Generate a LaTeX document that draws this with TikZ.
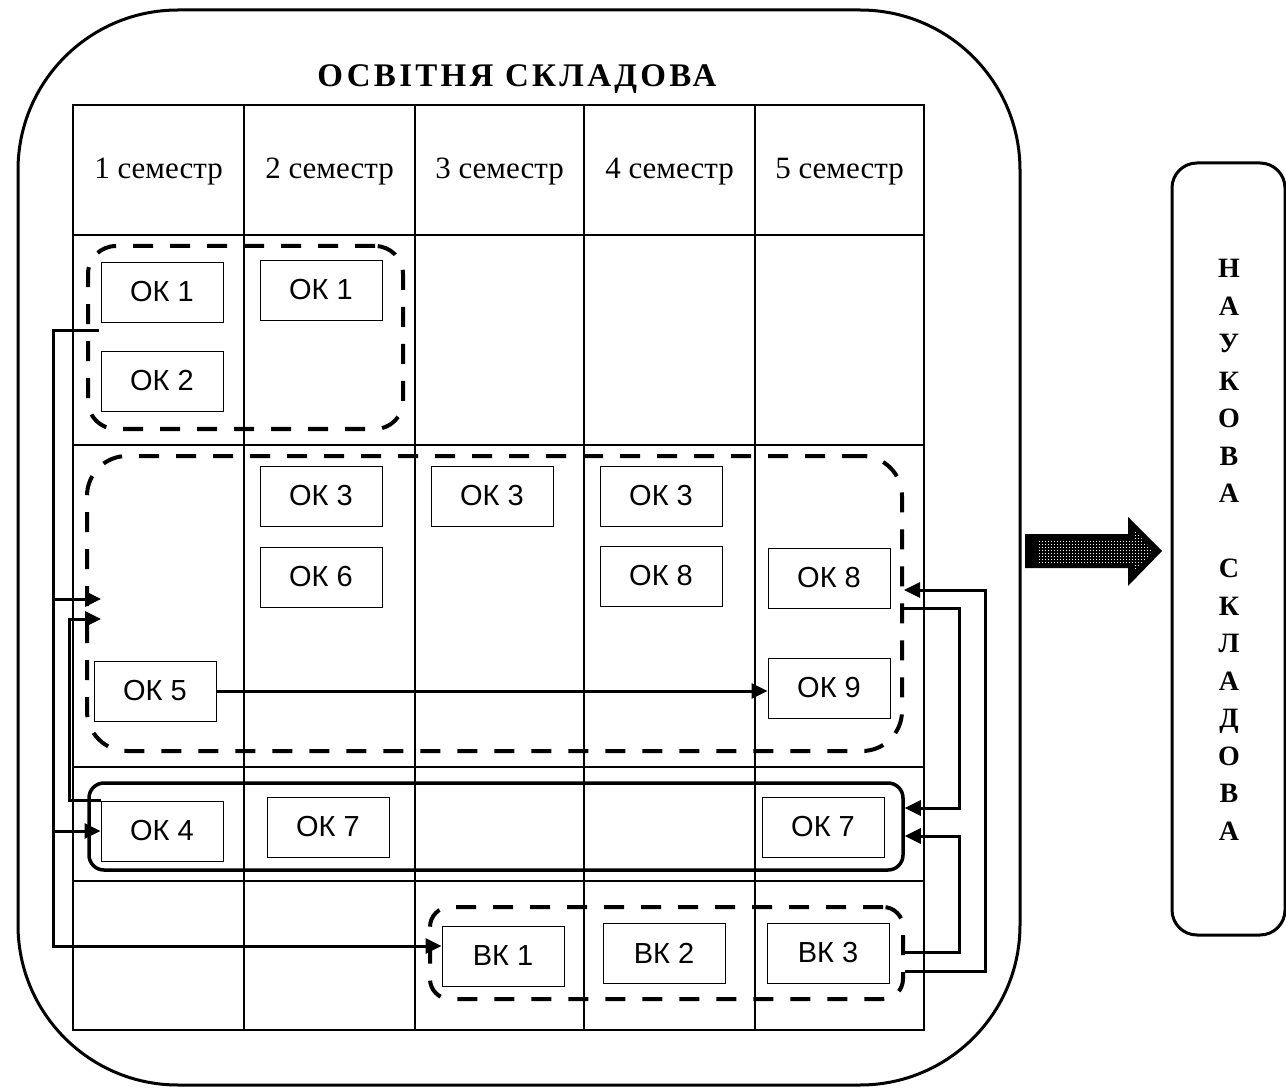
\documentclass[tikz,border=0pt]{standalone}
\usepackage{fontspec}
\setmainfont{Liberation Serif}
\newfontfamily\boxfont{Liberation Sans}
\newfontfamily\titlefont[LetterSpace=10]{Liberation Serif}
\usetikzlibrary{arrows.meta}
\tikzset{
  okbox/.style={draw, line width=0.8pt, minimum width=122pt, minimum height=60pt, inner sep=0pt, font=\boxfont\fontsize{29}{31}\selectfont},
  grpdash/.style={draw, line width=4pt, dash pattern=on 20pt off 17pt, inner sep=0pt},
  grpsolid/.style={draw, line width=3.5pt, rounded corners=15pt, inner sep=0pt},
  conn/.style={line width=3pt, -{Triangle[length=16pt,width=15pt]}},
  tbl/.style={line width=2pt}
}

\begin{document}
\begin{tikzpicture}[x=1pt,y=-1pt]
			%%%%% FRAME %%%%%
			\useasboundingbox (0,0) rectangle (1286,1091);
			\draw[line width=3pt, rounded corners=160pt] (18,10) rectangle (1020,1085);
			\node[font=\titlefont\bfseries\fontsize{33}{36}\selectfont] (title) at (517,79) {ОСВІТНЯ СКЛАДОВА};
			
			%%%%% TABLE %%%%%
			\draw[tbl] (73,105) rectangle (924,1030);
			\foreach \x in {244,415,584,755} \draw[tbl] (\x,105) -- (\x,1030);
			\foreach \y in {235,445,767,881} \draw[tbl] (73,\y) -- (924,\y);
			\foreach \i/\x in {1/158.5,2/329.5,3/499.5,4/669.5,5/839.5}
				\node[font=\fontsize{31}{36}\selectfont] (sem\i) at (\x,172) {\i\ семестр};
			
			%%%%% GROUPS %%%%%
			\node[grpdash, rounded corners=28pt, minimum width=315pt, minimum height=183pt] (g1) at (245.5,337.5) {};
			\node[grpdash, rounded corners=40pt, minimum width=815pt, minimum height=295pt] (g2) at (494.5,603.5) {};
			\node[grpsolid, minimum width=814pt, minimum height=87pt] (gs) at (496,826.5) {};
			\node[grpdash, rounded corners=20pt, minimum width=473pt, minimum height=92pt] (g3) at (666.5,953) {};
			
			%%%%% BOXES %%%%%
			\node[okbox] (ok1a) at (162,292) {ОК 1};
			\node[okbox] (ok1b) at (321,290) {ОК 1};
			\node[okbox] (ok2) at (162,381) {ОК 2};
			
			\node[okbox] (ok3a) at (321,496) {ОК 3};
			\node[okbox] (ok3b) at (492,496) {ОК 3};
			\node[okbox] (ok3c) at (661,496) {ОК 3};
			\node[okbox] (ok6) at (321,577) {ОК 6};
			\node[okbox] (ok8a) at (661,576) {ОК 8};
			\node[okbox] (ok8b) at (829,578) {ОК 8};
			\node[okbox] (ok5) at (155,691) {ОК 5};
			\node[okbox] (ok9) at (829,688) {ОК 9};
			
			\node[okbox] (ok4) at (162,831) {ОК 4};
			\node[okbox] (ok7a) at (328,827) {ОК 7};
			\node[okbox] (ok7b) at (823,827) {ОК 7};
			
			\node[okbox] (vk1) at (503,956) {ВК 1};
			\node[okbox] (vk2) at (664,953) {ВК 2};
			\node[okbox] (vk3) at (828,953) {ВК 3};
			
			%%%%% LINKS %%%%%
			\coordinate (src) at (99,331);
			\coordinate (trunk) at (53,331);
			\coordinate (in2a) at (101,599);
			\coordinate (in2b) at (101,619);
			\draw[conn] (src) -- (trunk) |- (vk1.west |- 0,946);
			\draw[conn] (trunk |- in2a) -- (in2a);
			\draw[conn] (trunk |- ok4.west) -- (ok4.west);
			\draw[conn] (ok4.north west) -- ++(-31,0) |- (in2b);
			\draw[conn] (ok5.east) -- (ok5.east -| ok9.west);
			
			\draw[conn] (g3.east |- 0,971) -- ++(80,0) |- (g2.east |- 0,590);
			\draw[conn] (g3.east |- 0,952) -- ++(54,0) |- (gs.east |- 0,836);
			\draw[conn] (g2.east |- 0,608) -- ++(55,0) |- (gs.east |- 0,808);
			
			%%%%% BIG ARROW %%%%%
			\fill[black] (1025,534) -- (1128,534) -- (1128,517) -- (1162,551) -- (1128,586) -- (1128,568) -- (1025,568) -- cycle;
			\begin{scope}
				\clip (1039,539) -- (1134,539) -- (1134,530) -- (1153,551) -- (1134,572) -- (1134,563) -- (1039,563) -- cycle;
				\foreach \x in {1039,1042,...,1153}
					\foreach \y in {529,532,...,572}
						\fill[white] (\x,\y) rectangle ++(1,1.1);
			\end{scope}
			
			%%%%% RIGHT BOX %%%%%
			\draw[line width=3pt, rounded corners=25pt] (1172,163) rectangle (1285,935);
			\node[align=center, font=\bfseries\fontsize{28}{37.5}\selectfont] (sci) at (1229,550) {Н\\А\\У\\К\\О\\В\\А\\~\\С\\К\\Л\\А\\Д\\О\\В\\А};
			
			%%%%% END %%%%%
\end{tikzpicture}
\end{document}
